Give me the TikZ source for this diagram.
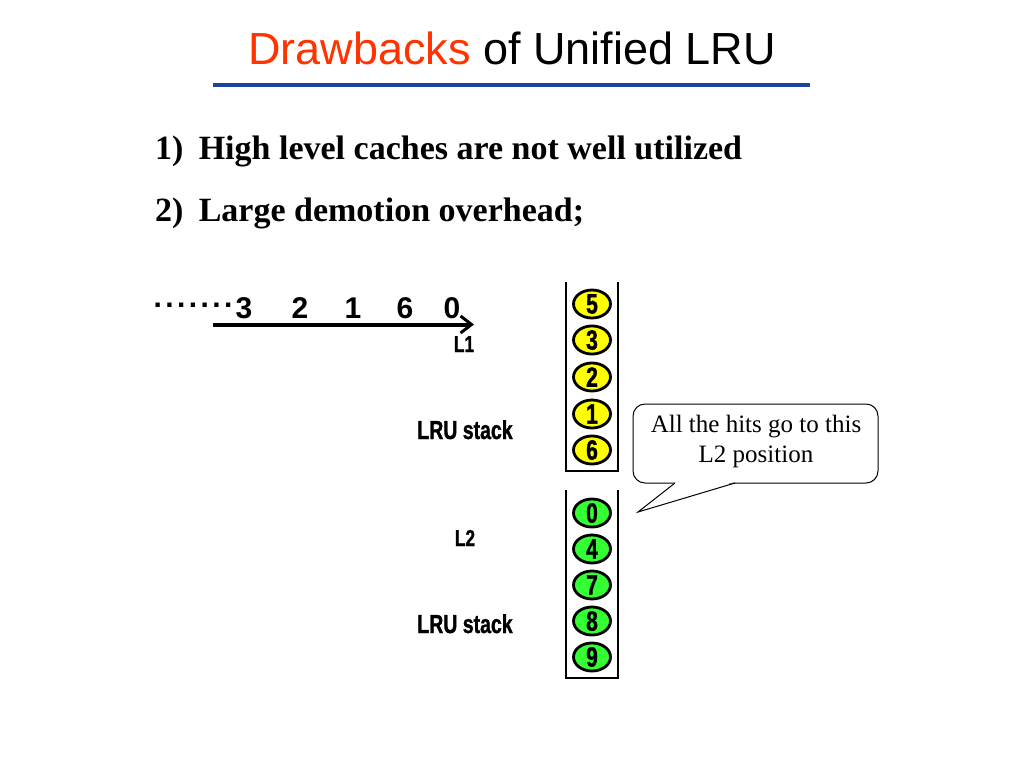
\documentclass[tikz,border=0pt]{standalone}
\usepackage{fontspec}
\setmainfont{Liberation Serif}
\newfontfamily\arialf{Liberation Sans}
\newfontfamily\condf[FakeStretch=0.75,FakeBold=1.2]{Liberation Sans}
\usetikzlibrary{arrows.meta,shapes.geometric}
\definecolor{titlered}{RGB}{255,51,0}
\definecolor{ruleblue}{RGB}{25,70,160}
\definecolor{ballyellow}{RGB}{255,255,0}
\definecolor{ballgreen}{RGB}{51,255,51}
\tikzset{
  ball/.style={ellipse, draw=black, line width=2.8pt, minimum width=37pt, minimum height=28pt, inner sep=0pt, font=\condf\bfseries\fontsize{28}{28}\selectfont},
  yball/.style={ball, fill=ballyellow},
  gball/.style={ball, fill=ballgreen},
  condlabel/.style={anchor=base, inner sep=0pt, font=\condf\bfseries\fontsize{26}{26}\selectfont},
  seqnum/.style={anchor=base, inner sep=0pt, font=\arialf\bfseries\fontsize{30}{30}\selectfont},
  bullet/.style={anchor=base west, inner sep=0pt, font=\bfseries\fontsize{34}{34}\selectfont},
  wall/.style={line width=2pt},
}
\begin{document}
\begin{tikzpicture}[x=1pt,y=-1pt]
\useasboundingbox (0,0) rectangle (1024,768);
% title
\node[anchor=base, inner sep=0pt, font=\arialf\fontsize{45}{45}\selectfont] (title) at (512,64) {\textcolor{titlered}{Drawbacks} of Unified LRU};
\coordinate (rl) at (213,85);
\coordinate (rr) at (810,85);
\draw[ruleblue, line width=4pt] (rl) -- (rr);
% bullets
\node[bullet] (b1) at (155,159) {1)\hspace{0.2em} High level caches are not well utilized};
\node[bullet] (b2) at (155,221) {2)\hspace{0.2em} Large demotion overhead;};
% sequence
\node[anchor=base west, inner sep=0pt, font=\arialf\bfseries\fontsize{30}{30}\selectfont] (dots) at (153.5,307.5) {.\kern3.4pt.\kern3.4pt.\kern3.4pt.\kern3.4pt.\kern3.4pt.\kern3.4pt.};
\node[seqnum] (n3) at (244,318) {3};
\node[seqnum] (n2) at (300,318) {2};
\node[seqnum] (n1) at (353,318) {1};
\node[seqnum] (n6) at (405,318) {6};
\node[seqnum] (n0) at (452,318) {0};
\coordinate (as) at (213,324.5);
\coordinate (ae) at (474,324.5);
\draw[line width=4pt, -{Straight Barb[length=11pt,width=17pt,line width=3pt]}] (as) -- (ae);
% labels
\node[condlabel, font=\condf\bfseries\fontsize{23}{23}\selectfont] (l1) at (464,352) {L1};
\node[condlabel] (s1) at (465,439) {LRU stack};
\node[condlabel, font=\condf\bfseries\fontsize{23}{23}\selectfont] (l2) at (465,546) {L2};
\node[condlabel] (s2) at (465,633) {LRU stack};
% containers
\coordinate (c1a) at (566,282);
\coordinate (c1b) at (566,471);
\coordinate (c1c) at (618,471);
\coordinate (c1d) at (618,282);
\draw[wall] (c1a) -- (c1b) -- (c1c) -- (c1d);
\coordinate (c2a) at (566,490);
\coordinate (c2b) at (566,678);
\coordinate (c2c) at (618,678);
\coordinate (c2d) at (618,490);
\draw[wall] (c2a) -- (c2b) -- (c2c) -- (c2d);
% balls
\node[yball] (y5) at (592,304) {5};
\node[yball] (y3) at (592,340) {3};
\node[yball] (y2) at (592,377) {2};
\node[yball] (y1) at (592,414) {1};
\node[yball] (y6) at (592,450) {6};
\node[gball] (g0) at (592,513) {0};
\node[gball] (g4) at (592,549) {4};
\node[gball] (g7) at (592,585) {7};
\node[gball] (g8) at (592,621) {8};
\node[gball] (g9) at (592,657) {9};
% callout
\draw[line width=1pt, rounded corners=12pt, fill=white] (633,404) rectangle (878,483);
\coordinate (pl) at (675,483);
\coordinate (pr) at (735,483);
\coordinate (tip) at (638,512);
\fill[white] (676,482) -- (tip) -- (734,482) -- cycle;
\draw[line width=1pt] (pl) -- (tip) -- (pr);
\node[align=center, inner sep=0pt, font=\fontsize{25}{30}\selectfont] (ctext) at (756,441) {All the hits go to this\\L2 position};
\end{tikzpicture}
\end{document}
